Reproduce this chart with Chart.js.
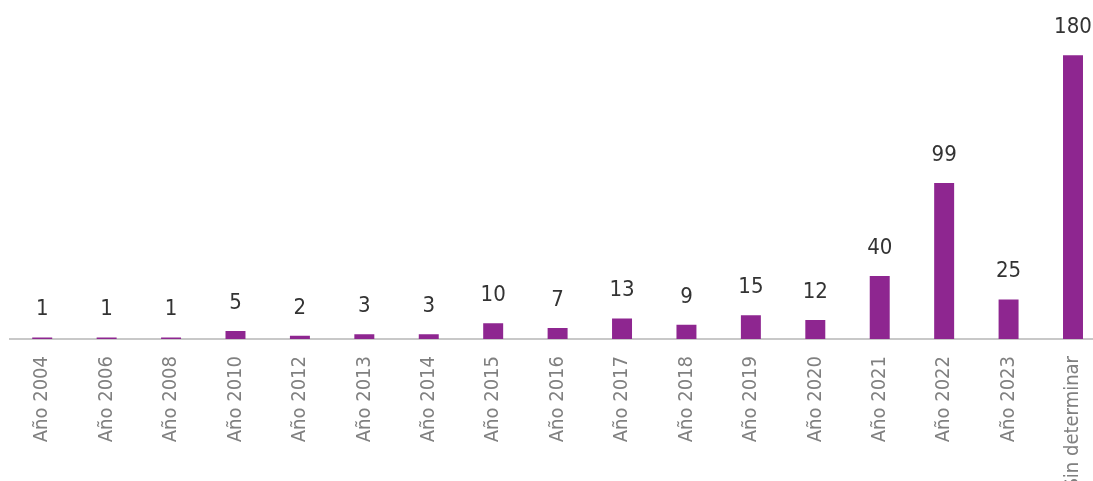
<!DOCTYPE html>
<html>
<head>
<meta charset="utf-8">
<script src="https://cdn.jsdelivr.net/npm/chart.js@4"></script>
<style>
    html, body { margin: 0; padding: 0; background: #fff; overflow: hidden; }
    #wrap { width: 1114px; height: 481px; }
</style>
</head>
<body>
<div id="wrap"><canvas id="barchart"></canvas></div>
<script>
const categories = ["Año 2004", "Año 2006", "Año 2008", "Año 2010", "Año 2012", "Año 2013", "Año 2014", "Año 2015",
    "Año 2016", "Año 2017", "Año 2018", "Año 2019", "Año 2020", "Año 2021", "Año 2022", "Año 2023", "Sin determinar"];
const counts = [1, 1, 1, 5, 2, 3, 3, 10, 7, 13, 9, 15, 12, 40, 99, 25, 180];

const fontFamily = "'Liberation Sans Narrow', 'DejaVu Sans Condensed', sans-serif";

// numbers over the bars
const valueLabels = {
    id: 'valueLabels',
    afterDatasetsDraw(chart) {
        const ctx = chart.ctx;
        const meta = chart.getDatasetMeta(0);
        ctx.save();
        ctx.font = '22px ' + fontFamily;
        ctx.fillStyle = '#333333';
        ctx.textAlign = 'center';
        ctx.textBaseline = 'bottom';
        meta.data.forEach((bar, i) => {
            ctx.fillText(counts[i], bar.x, bar.y - 17);
        });
        ctx.restore();
    }
};

window.addEventListener('load', () => {
    const ctx = document.getElementById('barchart');
    new Chart(ctx, {
        type: 'bar',
        data: {
            labels: categories,
            datasets: [{
                data: counts,
                backgroundColor: '#8e2690',
                barPercentage: 0.31,
                categoryPercentage: 1
            }]
        },
        options: {
            responsive: true,
            maintainAspectRatio: false,
            animation: false,
            layout: { padding: { left: 10, right: 0, top: 0, bottom: 0 } },
            plugins: {
                legend: { display: false },
                tooltip: { enabled: false }
            },
            scales: {
                x: {
                    grid: { display: false, drawTicks: false },
                    border: { display: true, color: '#c8c8c8', width: 2 },
                    ticks: {
                        color: '#808080',
                        font: { family: fontFamily, size: 20 },
                        minRotation: 90,
                        maxRotation: 90,
                        padding: 17,
                        autoSkip: false
                    },
                    afterFit: (scale) => { scale.height = 142; }
                },
                y: {
                    display: false,
                    min: 0,
                    max: 215
                }
            }
        },
        plugins: [valueLabels]
    });
});
</script>
</body>
</html>
